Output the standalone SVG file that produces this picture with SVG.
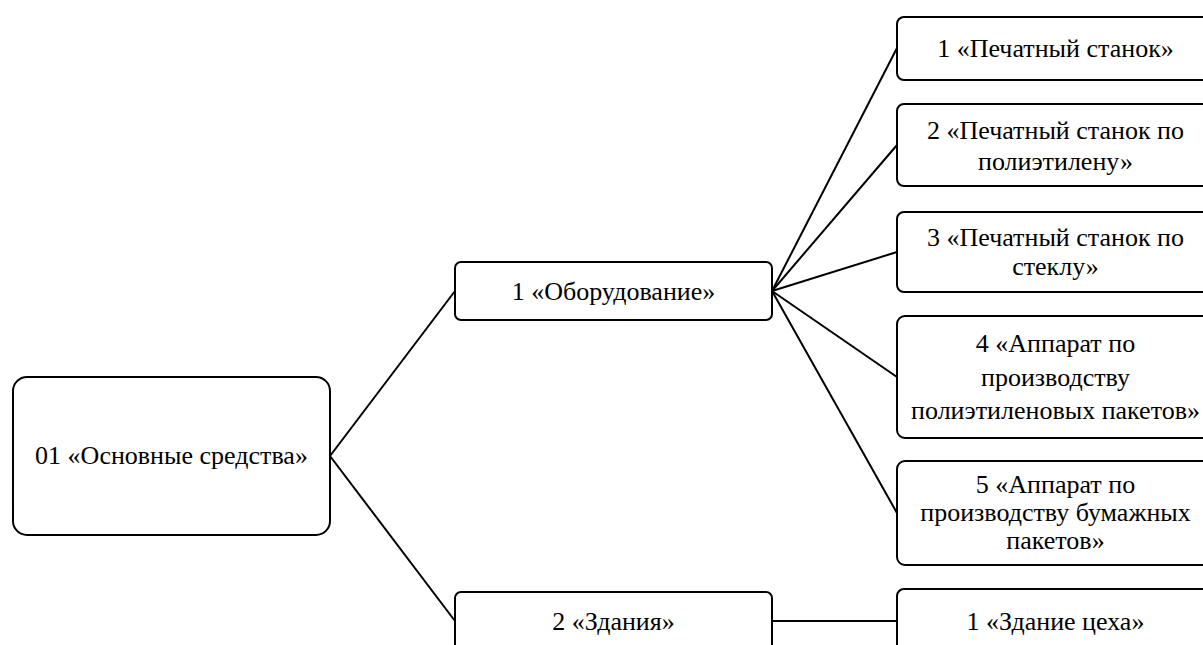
<svg xmlns="http://www.w3.org/2000/svg" width="1203" height="645" viewBox="0 0 1203 645">
<style>
.box{fill:#fff;stroke:#000;stroke-width:2}
.t{font-family:"Liberation Serif","Times New Roman",serif;font-size:26px;fill:#000;text-anchor:middle}
.c{stroke:#000;stroke-width:2;fill:none}
</style>
<rect width="1203" height="645" fill="#fff"/>
<g id="connectors">
<line class="c" x1="330" y1="456" x2="455" y2="291"/>
<line class="c" x1="330" y1="456" x2="455" y2="621"/>
<line class="c" x1="772" y1="291" x2="897" y2="48"/>
<line class="c" x1="772" y1="291" x2="897" y2="145"/>
<line class="c" x1="772" y1="291" x2="897" y2="252"/>
<line class="c" x1="772" y1="291" x2="897" y2="377"/>
<line class="c" x1="772" y1="291" x2="897" y2="513"/>
<line class="c" x1="772" y1="621" x2="897" y2="621"/>
</g>
<g id="root">
<rect class="box" x="13" y="377" width="317" height="158" rx="14"/>
<text class="t" x="171.5" y="464">01 «Основные средства»</text>
</g>
<g id="equipment">
<rect class="box" x="455" y="262" width="317" height="58" rx="6"/>
<text class="t" x="613.5" y="300">1 «Оборудование»</text>
</g>
<g id="buildings">
<rect class="box" x="455" y="592" width="317" height="60" rx="6"/>
<text class="t" x="613.5" y="630">2 «Здания»</text>
</g>
<g id="eq1">
<rect class="box" x="897" y="17" width="317" height="63" rx="7"/>
<text class="t" x="1055.5" y="57">1 «Печатный станок»</text>
</g>
<g id="eq2">
<rect class="box" x="897" y="104" width="317" height="82" rx="7"/>
<text class="t" x="1055.5" y="139">2 «Печатный станок по</text>
<text class="t" x="1055.5" y="170">полиэтилену»</text>
</g>
<g id="eq3">
<rect class="box" x="897" y="212" width="317" height="80" rx="7"/>
<text class="t" x="1055.5" y="246">3 «Печатный станок по</text>
<text class="t" x="1055.5" y="275">стеклу»</text>
</g>
<g id="eq4">
<rect class="box" x="897" y="316" width="317" height="122" rx="8"/>
<text class="t" x="1055.5" y="352">4 «Аппарат по</text>
<text class="t" x="1055.5" y="386">производству</text>
<text class="t" x="1055.5" y="419">полиэтиленовых пакетов»</text>
</g>
<g id="eq5">
<rect class="box" x="897" y="461" width="317" height="104" rx="8"/>
<text class="t" x="1055.5" y="493">5 «Аппарат по</text>
<text class="t" x="1055.5" y="521">производству бумажных</text>
<text class="t" x="1055.5" y="549">пакетов»</text>
</g>
<g id="bld1">
<rect class="box" x="897" y="589" width="317" height="63" rx="7"/>
<text class="t" x="1055.5" y="630">1 «Здание цеха»</text>
</g>
</svg>
